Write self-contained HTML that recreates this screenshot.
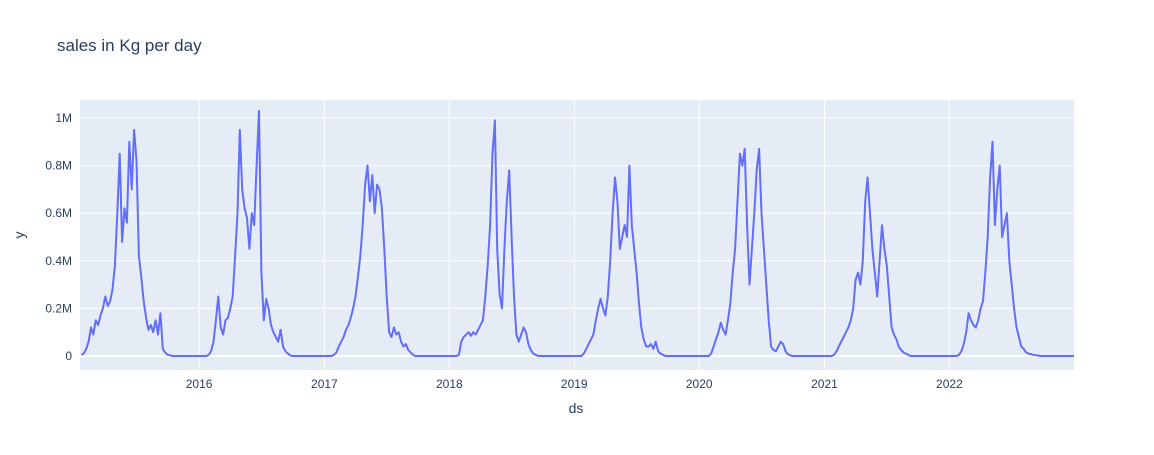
<!DOCTYPE html>
<html><head><meta charset="utf-8"><style>
body{margin:0;background:#fff;font-family:"Liberation Sans",Arial,sans-serif}
svg text{font-family:"Liberation Sans",Arial,sans-serif;fill:#2a3f5f}
</style></head><body>
<svg id="chart" width="1154" height="450">
<rect x="0" y="0" width="1154" height="450" fill="#fff"/>
<text x="57" y="51" font-size="17">sales in Kg per day</text>
<rect x="80" y="100" width="994" height="270" fill="#E5ECF6"/>
<g id="grid"></g>
<g id="series"></g>
<g id="ticks"></g>
<text x="576" y="413" font-size="14" text-anchor="middle">ds</text>
<text transform="translate(24,235) rotate(-90)" font-size="14" text-anchor="middle">y</text>
</svg>
<script>
const years = [2015,2016,2017,2018,2019,2020,2021,2022];
const weeklyK = [
[0,0,0,5,10,30,60,120,90,150,130,170,200,250,210,230,280,380,600,850,480,620,560,900,700,950,820,420,330,230,160,110,130,100,150,90,180,30,15,5,3,0,0,0,0,0,0,0,0,0,0,0],
[0,0,0,0,5,20,60,150,250,120,90,150,160,200,250,420,600,950,700,620,580,450,600,550,800,1030,350,150,240,200,130,100,80,60,110,40,20,10,3,0,0,0,0,0,0,0,0,0,0,0,0,0],
[0,0,0,0,5,15,40,60,80,110,130,160,200,250,330,420,550,720,800,650,760,600,720,700,620,450,250,100,80,120,90,100,60,40,50,25,15,5,0,0,0,0,0,0,0,0,0,0,0,0,0,0],
[0,0,0,0,5,60,80,90,100,85,100,90,110,130,150,250,380,550,850,990,450,260,200,450,650,780,500,250,90,60,90,120,100,50,25,10,5,0,0,0,0,0,0,0,0,0,0,0,0,0,0,0],
[0,0,0,0,10,30,50,70,90,150,200,240,200,170,250,400,600,750,650,450,500,550,500,800,550,450,350,220,120,70,40,40,50,30,60,20,10,5,0,0,0,0,0,0,0,0,0,0,0,0,0,0],
[0,0,0,0,0,10,40,70,100,140,110,90,150,220,350,450,650,850,800,870,550,300,450,600,780,870,600,450,300,150,40,25,20,40,60,50,20,8,3,0,0,0,0,0,0,0,0,0,0,0,0,0],
[0,0,0,0,5,20,40,60,80,100,120,150,200,320,350,300,400,650,750,600,450,350,250,400,550,450,380,250,120,90,70,40,25,15,10,5,0,0,0,0,0,0,0,0,0,0,0,0,0,0,0,0],
[0,0,0,0,5,20,50,100,180,150,130,120,150,200,230,350,500,750,900,550,700,800,500,550,600,400,300,200,120,80,40,30,15,10,8,5,3,2,0,0,0,0,0,0,0,0,0,0,0,0,0,0]
];
const yTicks = [0,200000,400000,600000,800000,1000000];
const yTickLabels = ["0","0.2M","0.4M","0.6M","0.8M","1M"];
const xTickYears = [2016,2017,2018,2019,2020,2021,2022];

const NS="http://www.w3.org/2000/svg";
const t0=Date.UTC(2015,0,18), t1=Date.UTC(2022,11,31);
const xs=t=>80+(t-t0)/(t1-t0)*994;
const ys=v=>356-v/1000000*238;
const grid=document.getElementById('grid'), ticks=document.getElementById('ticks'), ser=document.getElementById('series');
yTicks.forEach((v,i)=>{
  const l=document.createElementNS(NS,'line');
  l.setAttribute('x1',80);l.setAttribute('x2',1074);l.setAttribute('y1',ys(v));l.setAttribute('y2',ys(v));
  l.setAttribute('stroke','#fff');l.setAttribute('stroke-width',v===0?2:1);
  
  
  grid.appendChild(l);
  const t=document.createElementNS(NS,'text');
  t.setAttribute('x',72);t.setAttribute('y',ys(v)+4);t.setAttribute('text-anchor','end');t.setAttribute('font-size','12');
  t.textContent=yTickLabels[i];
  
  
  ticks.appendChild(t);
});
xTickYears.forEach(y=>{
  const x=xs(Date.UTC(y,0,1));
  const l=document.createElementNS(NS,'line');
  l.setAttribute('x1',x);l.setAttribute('x2',x);l.setAttribute('y1',100);l.setAttribute('y2',370);
  l.setAttribute('stroke','#fff');l.setAttribute('stroke-width',1);
  
  
  grid.appendChild(l);
  const t=document.createElementNS(NS,'text');
  t.setAttribute('x',x);t.setAttribute('y',388);t.setAttribute('text-anchor','middle');t.setAttribute('font-size','12');
  t.textContent=String(y);
  
  
  ticks.appendChild(t);
});
const pts=[];
years.forEach((yr,i)=>{
  weeklyK[i].forEach((v,w)=>{
    const t=Date.UTC(yr,0,1)+w*7*86400000;
    if(t<t0||t>t1) return;
    pts.push(xs(t).toFixed(1)+','+ys(v*1000).toFixed(1));
  });
});
pts.push(xs(t1).toFixed(1)+','+ys(0).toFixed(1));
const pl=document.createElementNS(NS,'polyline');
pl.setAttribute('points',pts.join(' '));
pl.setAttribute('fill','none');pl.setAttribute('stroke','#636efa');pl.setAttribute('stroke-width','2');pl.setAttribute('stroke-linejoin','round');


ser.appendChild(pl);
</script>
</body></html>
